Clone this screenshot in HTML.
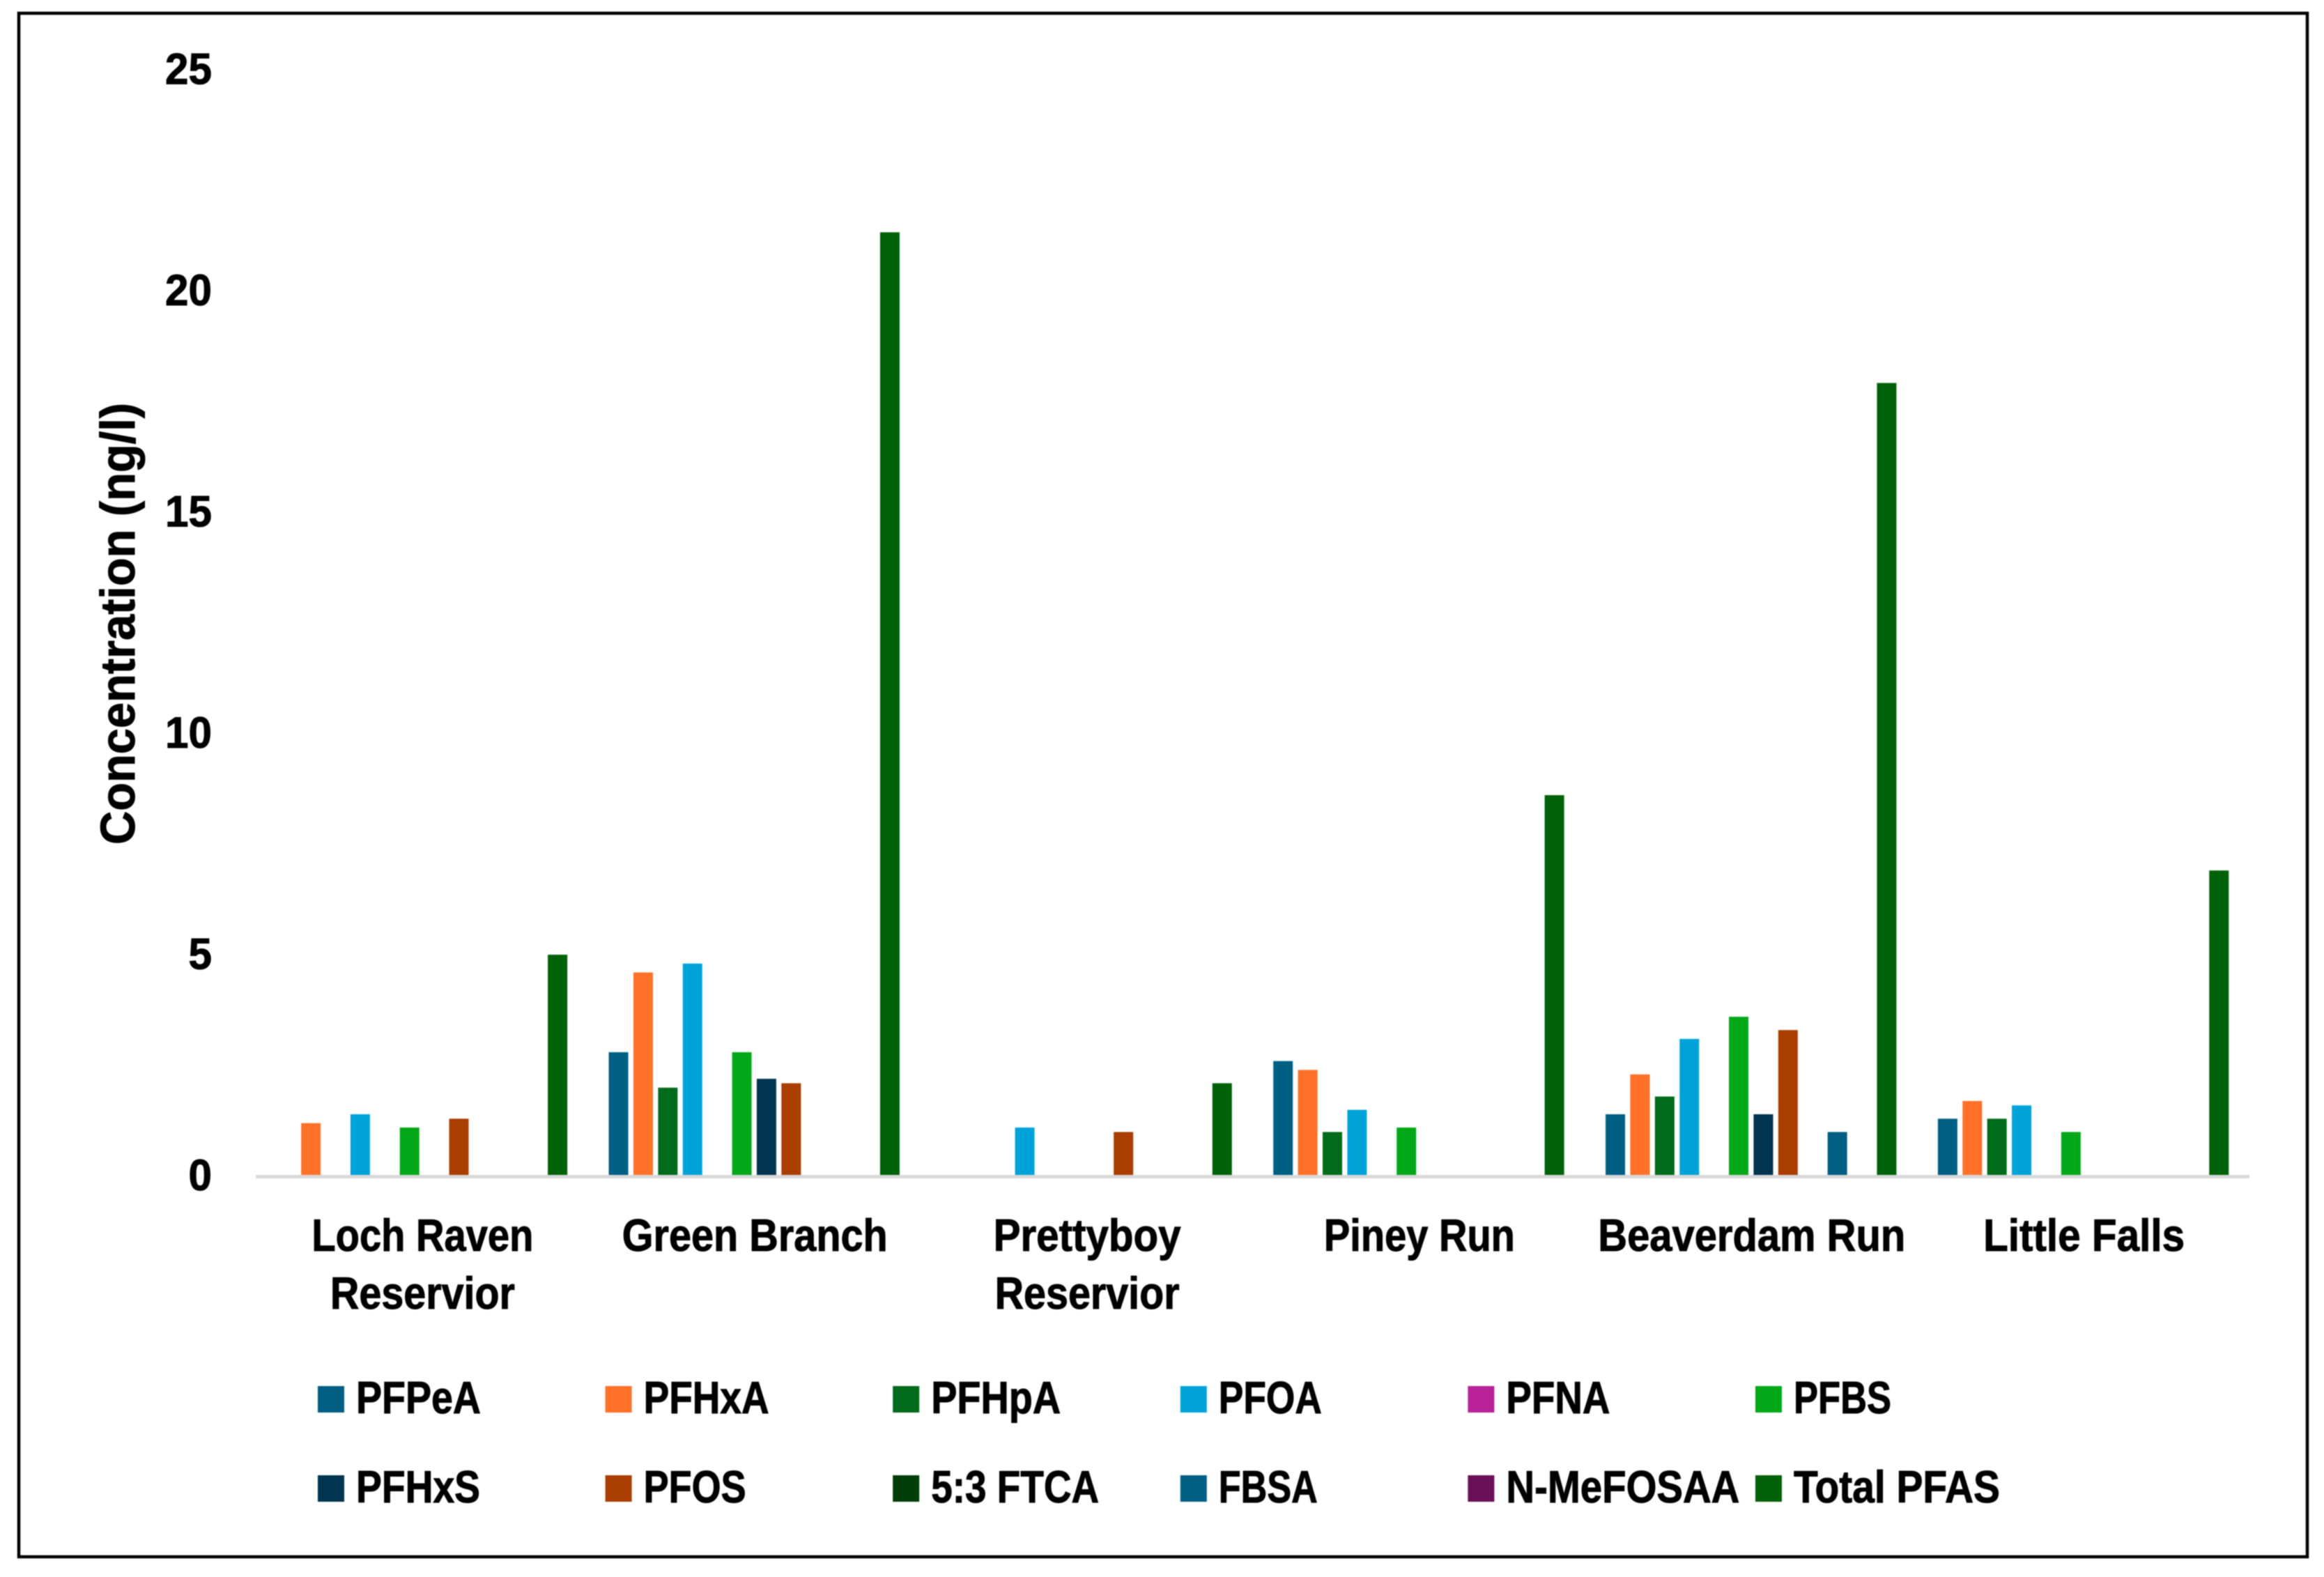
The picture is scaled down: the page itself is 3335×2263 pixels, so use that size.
<!DOCTYPE html>
<html lang="en">
<head>
<meta charset="utf-8">
<title>PFAS concentration by site</title>
<style>
html,body{margin:0;padding:0;background:#fff}
svg{display:block;width:3335px;height:2263px;filter:blur(0.7px)}
text{font-family:"Liberation Sans",sans-serif;font-weight:700;fill:#000;stroke:#000;stroke-width:1px}
</style>
</head>
<body>
<svg id="chart" xmlns="http://www.w3.org/2000/svg" width="3335" height="2263" viewBox="0 0 3335 2263">
  <rect x="0" y="0" width="3335" height="2263" fill="#ffffff"/>
  <rect x="27" y="19" width="3284" height="2215" fill="none" stroke="#000000" stroke-width="4.5"/>
  <g id="bars"></g>
  <line x1="367" x2="3228" y1="1688.5" y2="1688.5" stroke="#d9d9d9" stroke-width="5"/>
  <g id="y-ticks"></g>
  <g id="x-labels"></g>
  <text transform="translate(193,895) rotate(-90)" text-anchor="middle" font-size="70" textLength="634" lengthAdjust="spacingAndGlyphs">Concentration (ng/l)</text>
  <g id="legend"></g>
</svg>
<script>
const categories = [["Loch Raven", "Reservior"], ["Green Branch"], ["Prettyboy", "Reservior"], ["Piney Run"], ["Beaverdam Run"], ["Little Falls"]];
const seriesNames = ["PFPeA", "PFHxA", "PFHpA", "PFOA", "PFNA", "PFBS", "PFHxS", "PFOS", "5:3 FTCA", "FBSA", "N-MeFOSAA", "Total PFAS"];
const PFPeA = [0, 2.8, 0, 2.6, 1.4, 1.3];
const PFHxA = [1.2, 4.6, 0, 2.4, 2.3, 1.7];
const PFHpA = [0, 2.0, 0, 1.0, 1.8, 1.3];
const PFOA = [1.4, 4.8, 1.1, 1.5, 3.1, 1.6];
const PFNA = [0, 0, 0, 0, 0, 0];
const PFBS = [1.1, 2.8, 0, 1.1, 3.6, 1.0];
const PFHxS = [0, 2.2, 0, 0, 1.4, 0];
const PFOS = [1.3, 2.1, 1.0, 0, 3.3, 0];
const FTCA53 = [0, 0, 0, 0, 0, 0];
const FBSA = [0, 0, 0, 0, 1.0, 0];
const NMeFOSAA = [0, 0, 0, 0, 0, 0];
const TotalPFAS = [5.0, 21.3, 2.1, 8.6, 17.9, 6.9];
const yTickLabels = [0, 5, 10, 15, 20, 25];

const seriesValues = [PFPeA, PFHxA, PFHpA, PFOA, PFNA, PFBS, PFHxS, PFOS, FTCA53, FBSA, NMeFOSAA, TotalPFAS];
const palette = ["#005f83", "#ff7029", "#006b1b", "#00a3d9", "#b9239a", "#02a817", "#00344f", "#aa3d00", "#003d07", "#005f83", "#6a0f58", "#006208"];
const textFit = {"Loch Raven":318,"Reservior":265,"Green Branch":381,"Prettyboy":269,"Piney Run":274,"Beaverdam Run":441,"Little Falls":289,
  "PFPeA":179,"PFHxA":180,"PFHpA":186,"PFOA":148,"PFNA":149,"PFBS":140,"PFHxS":178,"PFOS":147,"5:3 FTCA":241,"FBSA":142,"N-MeFOSAA":335,"Total PFAS":296};

const SVGNS = "http://www.w3.org/2000/svg";
const plotLeft = 367, plotRight = 3228, baseY = 1688, unitPx = 63.6, tickBaseY = 1686, tickUnitPx = 63.5;
const barPitch = 35.4, barWidth = 28;
const groupWidth = (plotRight - plotLeft) / categories.length;

function xBand(c) { return plotLeft + groupWidth * (c + 0.5); }
function xBar(c, s) { return xBand(c) + (s - (seriesValues.length - 1) / 2) * barPitch; }
function yVal(v) { return baseY - v * unitPx; }
function yTick(v) { return tickBaseY - v * tickUnitPx; }

function make(tag, parent, props, content) {
  const el = document.createElementNS(SVGNS, tag);
  for (const k in props) el.setAttribute(k, props[k]);
  if (content !== undefined) el.textContent = content;
  parent.appendChild(el);
  return el;
}
function fit(el, label) {
  if (textFit[label]) {
    el.setAttribute("textLength", textFit[label]);
    el.setAttribute("lengthAdjust", "spacingAndGlyphs");
  }
}

const barsG = document.getElementById("bars");
seriesValues.forEach(function (vals, s) {
  vals.forEach(function (v, c) {
    const r = make("rect", barsG, {x: xBar(c, s) - barWidth / 2, y: yVal(v), width: barWidth, height: baseY - yVal(v), fill: palette[s]});
    
    
  });
});

const tickG = document.getElementById("y-ticks");
yTickLabels.forEach(function (t) {
  const el = make("text", tickG, {x: 304, y: yTick(t) + 22, "text-anchor": "end", "font-size": 63, textLength: String(t).length * 33.5, lengthAdjust: "spacingAndGlyphs"}, String(t));
  
  
});

const catG = document.getElementById("x-labels");
categories.forEach(function (lines, c) {
  lines.forEach(function (line, i) {
    const el = make("text", catG, {x: xBand(c) + 1, y: 1795 + i * 83, "text-anchor": "middle", "font-size": 65}, line);
    fit(el, line);
    
    
  });
});

const legendG = document.getElementById("legend");
const legendX0 = 456, legendPitch = 412.6, legendRowY = [1989, 2117], legendCols = 6;
seriesNames.forEach(function (name, i) {
  const col = i % legendCols, row = Math.floor(i / legendCols);
  const sx = legendX0 + col * legendPitch, sy = legendRowY[row];
  const sw = make("rect", legendG, {x: sx, y: sy, width: 38, height: 38, fill: palette[i]});
  
  
  const tx = make("text", legendG, {x: sx + 55, y: sy + 39, "font-size": 65}, name);
  fit(tx, name);
  
  
});
</script>
</body>
</html>
